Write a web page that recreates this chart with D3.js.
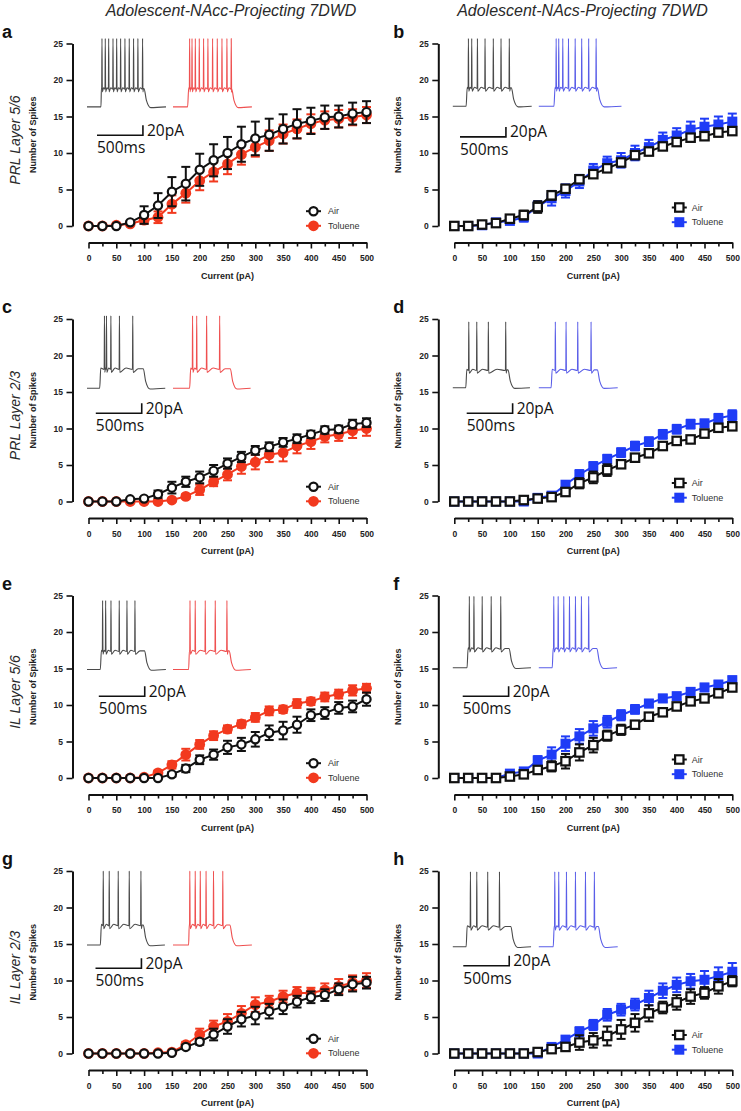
<!DOCTYPE html>
<html>
<head>
<meta charset="utf-8">
<script src="https://cdn.jsdelivr.net/npm/d3@7"></script>
<style>
  body { margin: 0; background: #fff; }
  svg { display: block; font-family: "Liberation Sans", Arial, sans-serif; }
</style>
</head>
<body>
<div id="chart"></div>
<script>

// ---------- data ----------
var currents = [0, 25, 50, 75, 100, 125, 150, 175, 200, 225, 250, 275, 300, 325, 350, 375, 400, 425, 450, 475, 500];
var yTicks = [0, 5, 10, 15, 20, 25];
var columnTitles = ["Adolescent-NAcc-Projecting 7DWD", "Adolescent-NAcs-Projecting 7DWD"];
var rowLabels = ["PRL Layer 5/6", "PRL Layer 2/3", "IL Layer 5/6", "IL Layer 2/3"];
var groupNames = ["Air", "Toluene"];

// spikes per current step (mean, sem)
var airA    = [0,0,0,0.5,1.5,2.8,4.7,5.8,7.7,9.0,10.0,11.2,12.0,12.5,13.3,14.0,14.4,14.9,15.0,15.4,15.6];
var airASem = [0,0,0,0.2,1.2,1.7,2.0,2.3,2.2,2.2,2.2,2.4,2.3,2.2,2.0,2.0,1.8,1.6,1.5,1.5,1.5];
var tolA    = [0,0,0.1,0.3,0.8,1.2,3.0,4.5,6.2,7.4,8.5,9.8,10.8,11.7,12.6,13.3,14.0,14.5,14.7,14.9,15.2];
var tolASem = [0,0,0.1,0.2,0.5,0.8,1.2,1.3,1.3,1.3,1.4,1.4,1.3,1.4,1.3,1.3,1.3,1.2,1.2,1.1,1.1];

var airB    = [0,0,0.2,0.4,1.0,1.5,2.6,4.2,5.1,6.4,7.1,7.9,8.7,9.7,10.2,10.9,11.5,12.1,12.3,12.8,13.0];
var airBSem = [0,0,0.1,0.2,0.3,0.6,0.8,0.6,0.5,0.5,0.4,0.4,0.5,0.5,0.5,0.4,0.4,0.4,0.4,0.5,0.5];
var tolB    = [0,0,0.1,0.5,0.7,1.2,2.7,3.8,4.8,6.1,7.6,8.6,9.0,10.0,10.8,11.8,12.4,13.2,13.6,13.9,14.3];
var tolBSem = [0,0,0.1,0.2,0.3,0.6,0.7,1.0,0.9,0.9,0.9,0.9,1.0,1.0,1.0,1.0,1.0,1.1,1.1,1.1,1.1];

var airC    = [0,0,0,0.3,0.4,1.0,1.9,2.7,3.3,4.2,5.2,6.1,7.0,7.5,8.1,8.6,9.2,9.8,9.9,10.6,10.8];
var airCSem = [0,0,0,0.1,0.2,0.5,0.8,0.7,0.8,0.8,0.7,0.7,0.6,0.6,0.6,0.6,0.5,0.5,0.5,0.6,0.6];
var tolC    = [0,0,0,0,0,0,0.2,0.7,1.6,2.7,3.7,4.8,5.4,6.4,6.7,7.6,8.2,8.9,9.2,9.7,10.0];
var tolCSem = [0,0,0,0,0.1,0.1,0.2,0.3,0.7,0.6,0.8,1.0,1.0,1.0,1.2,1.0,1.0,0.8,0.9,1.0,1.0];

var airD    = [0,0,0,0,0,0.2,0.4,0.6,1.3,2.5,3.3,4.3,5.1,6.0,6.6,7.6,8.3,8.5,9.3,10.1,10.3];
var airDSem = [0,0,0,0,0,0.1,0.2,0.2,0.4,0.7,0.8,0.8,0.5,0.5,0.4,0.4,0.4,0.4,0.4,0.4,0.4];
var tolD    = [0,0,0,0,0,0,0.5,0.8,2.3,3.7,4.8,5.8,6.7,7.6,8.2,9.2,9.9,10.6,10.7,11.4,11.8];
var tolDSem = [0,0,0,0,0,0.1,0.3,0.4,0.5,0.6,0.6,0.6,0.6,0.6,0.6,0.6,0.6,0.6,0.5,0.6,0.7];

var airE    = [0,0,0,0,0,0,0.5,1.3,2.5,3.2,4.2,4.6,5.3,6.2,6.5,7.3,8.6,8.9,9.6,9.8,10.8];
var airESem = [0,0,0,0,0,0.1,0.3,0.5,0.6,0.7,0.9,0.9,1.0,1.0,1.2,1.1,0.8,0.8,0.8,0.8,0.9];
var tolE    = [0,0,0,0,0.1,0.7,1.8,3.2,4.6,5.8,6.7,7.4,8.3,9.2,9.4,10.2,10.5,11.1,11.5,12.0,12.3];
var tolESem = [0,0,0,0,0.1,0.3,0.5,0.8,0.6,0.6,0.5,0.5,0.6,0.6,0.5,0.6,0.5,0.6,0.6,0.7,0.6];

var airF    = [0,0,0,0,0.2,0.5,1.1,1.6,2.3,3.5,4.5,5.8,6.6,7.3,8.4,9.0,9.8,10.5,10.9,11.6,12.4];
var airFSem = [0,0,0,0,0.1,0.2,0.4,0.7,1.0,1.1,1.0,0.7,0.7,0.5,0.4,0.4,0.4,0.4,0.4,0.4,0.4];
var tolF    = [0,0,0,0,0.6,0.9,2.4,3.2,4.7,5.7,6.8,7.7,8.6,9.4,10.2,10.9,11.2,11.8,12.4,12.8,13.4];
var tolFSem = [0,0,0,0,0.2,0.3,0.6,1.0,1.0,1.0,1.0,0.8,0.7,0.6,0.5,0.5,0.5,0.5,0.5,0.5,0.5];

var airG    = [0,0,0,0,0,0,0.1,0.9,1.6,2.6,3.7,4.7,5.2,5.8,6.4,7.1,7.7,8.0,8.8,9.5,9.7];
var airGSem = [0,0,0,0,0,0,0.1,0.3,0.4,0.8,1.0,1.0,1.2,1.0,1.0,0.8,0.8,0.8,0.8,1.0,0.8];
var tolG    = [0,0,0,0,0,0.1,0.2,1.2,2.6,3.7,4.4,5.5,6.7,7.1,7.8,8.3,8.3,8.7,9.2,9.7,10.0];
var tolGSem = [0,0,0,0,0,0.1,0.1,0.4,0.8,0.8,1.0,1.0,1.0,0.8,0.8,0.8,0.7,0.9,1.0,1.0,1.0];

var airH    = [0,0,0,0,0,0,0.2,0.6,0.9,1.5,1.8,2.4,3.3,4.2,5.5,6.3,7.0,7.8,8.3,9.2,9.9];
var airHSem = [0,0,0,0,0,0.1,0.1,0.3,0.5,1.0,1.0,1.3,1.3,1.2,1.1,0.8,1.0,1.0,0.8,1.0,0.7];
var tolH    = [0,0,0,0,0,0,0,0.9,1.9,3.0,3.9,5.3,6.0,6.7,7.6,8.6,9.4,9.9,10.1,10.6,11.2];
var tolHSem = [0,0,0,0,0,0,0.1,0.3,0.5,0.6,0.7,0.8,0.8,0.8,1.0,1.0,1.0,1.0,1.2,1.2,1.2];

// example traces: step on/off, end of sweep and spike times (ms)
var traceA = { air: {on: 152, off: 624, end: 860, spikes: [163,199,236,283,323,366,413,460,507,554,605]},
               tol: {on: 159, off: 641, end: 859, spikes: [181,207,243,286,333,380,431,482,533,587,634]} };
var traceB = { air: {on: 145, off: 641, end: 859, spikes: [170,206,268,351,441,525,615]},
               tol: {on: 165, off: 641, end: 900, spikes: [189,217,261,323,396,467,543,624]} };
var traceC = { air: {on: 138, off: 616, end: 852, spikes: [190,212,260,353,498]},
               tol: {on: 181, off: 627, end: 845, spikes: [213,258,366,508]} };
var traceD = { air: {on: 141, off: 604, end: 840, spikes: [174,261,387,576]},
               tol: {on: 134, off: 641, end: 859, spikes: [180,297,424,569]} };
var traceE = { air: {on: 145, off: 630, end: 859, spikes: [170,203,261,351,435,522]},
               tol: {on: 170, off: 615, end: 848, spikes: [185,242,351,460,587]} };
var traceF = { air: {on: 155, off: 616, end: 851, spikes: [180,230,320,418,522]},
               tol: {on: 146, off: 635, end: 852, spikes: [163,211,272,334,399,464,543]} };
var traceG = { air: {on: 145, off: 616, end: 848, spikes: [177,242,340,460,587]},
               tol: {on: 170, off: 623, end: 859, spikes: [183,242,297,360,441,542]} };
var traceH = { air: {on: 145, off: 635, end: 852, spikes: [192,261,380,508]},
               tol: {on: 157, off: 652, end: 859, spikes: [174,217,301,399,508,605]} };

// ---------- layout ----------
var colX = [72.5, 438.3];
var rowTop = [43.5, 319, 595.5, 871];
var plotH = 182.5, xAxisY = 199;
var titleX = [231, 582.5];
var RED = "#f2391e", BLUE = "#1f3cf6", INK = "#111";
var traceColor = {black: "#4a4a4a", red: "#ef5050", blue: "#5a5ee8"};

var panels = [
  {id: "a", col: 0, row: 0, air: airA, airSem: airASem, tol: tolA, tolSem: tolASem, tr: traceA, inset: [63.4, -5], bar: [24.5, 91.7]},
  {id: "b", col: 1, row: 0, air: airB, airSem: airBSem, tol: tolB, tolSem: tolBSem, tr: traceB, inset: [62.7, -5], bar: [21.7, 93.4]},
  {id: "c", col: 0, row: 1, air: airC, airSem: airCSem, tol: tolC, tolSem: tolCSem, tr: traceC, inset: [69.3, -3.3], bar: [23.3, 94.3]},
  {id: "d", col: 1, row: 1, air: airD, airSem: airDSem, tol: tolD, tolSem: tolDSem, tr: traceD, inset: [68.7, 2.7], bar: [28.4, 94.3]},
  {id: "e", col: 0, row: 2, air: airE, airSem: airESem, tol: tolE, tolSem: tolESem, tr: traceE, inset: [74, 5], bar: [26.3, 100.7]},
  {id: "f", col: 1, row: 2, air: airF, airSem: airFSem, tol: tolF, tolSem: tolFSem, tr: traceF, inset: [72.3, 0.7], bar: [24.4, 100.7]},
  {id: "g", col: 0, row: 3, air: airG, airSem: airGSem, tol: tolG, tolSem: tolGSem, tr: traceG, inset: [74, 0], bar: [23, 97.3]},
  {id: "h", col: 1, row: 3, air: airH, airSem: airHSem, tol: tolH, tolSem: tolHSem, tr: traceH, inset: [75.7, 0.7], bar: [25, 94.7]}
];

var svg = d3.select("#chart").append("svg")
  .attr("width", 741)
  .attr("height", 1111);

svg.append("rect").attr("width", 741).attr("height", 1111).attr("fill", "#fff");

// column titles
svg.selectAll(".coltitle").data(columnTitles).join("text")
  .attr("class", "coltitle")
  .attr("x", function(d, i) { return titleX[i]; })
  .attr("y", 16)
  .attr("text-anchor", "middle")
  .attr("font-size", 16)
  .attr("font-style", "italic")
  .attr("fill", "#2a2a2a")
  .text(function(d) { return d; });

// row labels
svg.selectAll(".rowlabel").data(rowLabels).join("text")
  .attr("class", "rowlabel")
  .attr("transform", function(d, i) { return "translate(15," + (rowTop[i] + 96.5) + ") rotate(-90)"; })
  .attr("text-anchor", "middle")
  .attr("dominant-baseline", "central")
  .attr("font-size", 14)
  .attr("font-style", "italic")
  .attr("fill", "#2a2a2a")
  .text(function(d) { return d; });

// builds voltage points of one sweep from its spike times
function tracePoints(t) {
  var rest = -70, plat = -45, peak = 30;
  var rise = Math.min(t.on + 12, t.spikes[0] - 6);
  var pts = [[0, rest], [t.on, rest], [rise, plat + 3]];
  t.spikes.forEach(function(s, i) {
    if (i > 0) pts.push([(t.spikes[i - 1] + s) / 2, plat + 3]);
    pts.push([s - 3, plat + 1], [s, peak], [s + 4, plat - 3]);
  });
  var last = t.spikes[t.spikes.length - 1];
  pts.push([(last + t.off) / 2, plat + 2], [t.off - 3, plat + 2], [t.off + 22, -60], [t.off + 70, -71], [t.end, rest]);
  return pts;
}

panels.forEach(function(p) {
  var g = svg.append("g").attr("transform", "translate(" + colX[p.col] + "," + rowTop[p.row] + ")");
  var x = d3.scaleLinear().domain([0, 500]).range([16, 294]);
  var y = d3.scaleLinear().domain([0, 25]).range([plotH, 0]);
  var square = p.col === 1;
  var tolColor = square ? BLUE : RED;

  // panel letter
  g.append("text")
    .attr("x", p.col === 0 ? -70.5 : -45)
    .attr("y", -6)
    .attr("font-size", 18)
    .attr("font-weight", "bold")
    .attr("fill", "#111")
    .text(p.id);

  // y axis
  var ya = g.append("g")
    .call(d3.axisLeft(y).tickValues(yTicks).tickSize(6).tickSizeOuter(0).tickPadding(3.5));
  ya.select(".domain").attr("stroke", INK).attr("stroke-width", 2);
  ya.selectAll(".tick line").attr("stroke", INK).attr("stroke-width", 1.6);
  ya.selectAll(".tick text")
    .attr("font-size", 8.5).attr("font-weight", "bold").attr("fill", "#222")
    .attr("font-family", "Liberation Sans, Arial, sans-serif");

  // x axis, offset below the plot
  var xa = g.append("g")
    .attr("transform", "translate(0," + xAxisY + ")")
    .call(d3.axisBottom(x).tickValues(currents).tickSize(6).tickSizeOuter(0).tickPadding(6.5)
      .tickFormat(function(d) { return d % 50 === 0 ? d : ""; }));
  xa.select(".domain").attr("stroke", INK).attr("stroke-width", 2);
  xa.selectAll(".tick line")
    .attr("stroke", INK).attr("stroke-width", 1.6)
    .attr("y2", function(d) { return d % 50 === 0 ? 6 : 4; });
  xa.selectAll(".tick text")
    .attr("font-size", 8.5).attr("font-weight", "bold").attr("fill", "#222")
    .attr("font-family", "Liberation Sans, Arial, sans-serif");

  // axis titles
  g.append("text")
    .attr("transform", "translate(" + (p.col === 0 ? -39.2 : -40) + "," + (plotH / 2) + ") rotate(-90)")
    .attr("text-anchor", "middle")
    .attr("dominant-baseline", "central")
    .attr("font-size", 9)
    .attr("font-weight", "bold")
    .attr("fill", "#222")
    .text("Number of Spikes");

  g.append("text")
    .attr("x", x(250))
    .attr("y", 232)
    .attr("text-anchor", "middle")
    .attr("dominant-baseline", "central")
    .attr("font-size", 9)
    .attr("font-weight", "bold")
    .attr("fill", "#222")
    .text("Current (pA)");

  // example traces
  var tx = d3.scaleLinear().domain([0, 860]).range([0, 79]);
  var tv = d3.scaleLinear().domain([-70, 30]).range(p.inset);
  var trLine = d3.line().curve(d3.curveMonotoneX)
    .x(function(d) { return tx(d[0]); }).y(function(d) { return tv(d[1]); });
  [["air", 14.5, traceColor.black], ["tol", 100.5, square ? traceColor.blue : traceColor.red]].forEach(function(t) {
    g.append("path")
      .attr("transform", "translate(" + t[1] + ",0)")
      .attr("d", trLine(tracePoints(p.tr[t[0]])))
      .attr("fill", "none")
      .attr("stroke", t[2])
      .attr("stroke-width", 1.1)
      .attr("stroke-linejoin", "round");
  });

  // scale bar: 500 ms x 20 pA
  var bx = p.bar[0], by = p.bar[1], barLen = tx(500) - tx(0);
  g.append("path")
    .attr("d", "M" + bx + "," + by + "H" + (bx + barLen) + "V" + (by - 10))
    .attr("fill", "none")
    .attr("stroke", "#111")
    .attr("stroke-width", 1.6);
  g.append("text")
    .attr("x", bx + barLen + 4).attr("y", by + 0.5)
    .attr("font-family", "Open Sans, sans-serif")
    .attr("font-size", 15.5).attr("fill", "#111")
    .text("20pA");
  g.append("text")
    .attr("x", bx).attr("y", by + 18)
    .attr("font-family", "Open Sans, sans-serif")
    .attr("font-size", 15.5).attr("fill", "#111")
    .text("500ms");

  // series: toluene first, air on top
  var series = [
    {vals: p.tol, sem: p.tolSem, color: tolColor, open: false},
    {vals: p.air, sem: p.airSem, color: INK, open: true}
  ];
  var line = d3.line().x(function(d, i) { return x(currents[i]); }).y(function(d) { return y(d); });

  series.forEach(function(s) {
    var sg = g.append("g");
    var pts = s.vals.map(function(v, i) { return {c: currents[i], v: v, e: s.sem[i]}; });

    var eb = sg.selectAll(".eb").data(pts.filter(function(d) { return d.e > 0.15; })).join("g");
    eb.append("line")
      .attr("x1", function(d) { return x(d.c); }).attr("x2", function(d) { return x(d.c); })
      .attr("y1", function(d) { return y(d.v + d.e); }).attr("y2", function(d) { return y(d.v - d.e); })
      .attr("stroke", s.color).attr("stroke-width", 2);
    eb.append("line")
      .attr("x1", function(d) { return x(d.c) - 4.5; }).attr("x2", function(d) { return x(d.c) + 4.5; })
      .attr("y1", function(d) { return y(d.v + d.e); }).attr("y2", function(d) { return y(d.v + d.e); })
      .attr("stroke", s.color).attr("stroke-width", 2);
    eb.append("line")
      .attr("x1", function(d) { return x(d.c) - 4.5; }).attr("x2", function(d) { return x(d.c) + 4.5; })
      .attr("y1", function(d) { return y(d.v - d.e); }).attr("y2", function(d) { return y(d.v - d.e); })
      .attr("stroke", s.color).attr("stroke-width", 2);

    sg.append("path")
      .attr("d", line(s.vals))
      .attr("fill", "none")
      .attr("stroke", s.color)
      .attr("stroke-width", 2);

    if (square) {
      var side = s.open ? 8.4 : 10;
      sg.selectAll(".mk").data(pts).join("rect")
        .attr("x", function(d) { return x(d.c) - side / 2; })
        .attr("y", function(d) { return y(d.v) - side / 2; })
        .attr("width", side).attr("height", side)
        .attr("fill", s.open ? "#fff" : s.color)
        .attr("stroke", s.open ? s.color : "none")
        .attr("stroke-width", 2.2);
    } else {
      sg.selectAll(".mk").data(pts).join("circle")
        .attr("cx", function(d) { return x(d.c); })
        .attr("cy", function(d) { return y(d.v); })
        .attr("r", s.open ? 4.1 : 5.4)
        .attr("fill", s.open ? "#fff" : s.color)
        .attr("stroke", s.open ? s.color : "none")
        .attr("stroke-width", 2.2);
    }
  });

  // legend
  var ly = square ? [164, 178.7] : [167.7, 182.3];
  var lg = g.append("g");
  [[groupNames[0], INK, true], [groupNames[1], tolColor, false]].forEach(function(d, i) {
    var cy = ly[i], cx = 241;
    lg.append("line")
      .attr("x1", cx - 7.5).attr("x2", cx + 7.5).attr("y1", cy).attr("y2", cy)
      .attr("stroke", d[1]).attr("stroke-width", 2);
    if (square) {
      var side = d[2] ? 8.4 : 10;
      lg.append("rect")
        .attr("x", cx - side / 2).attr("y", cy - side / 2)
        .attr("width", side).attr("height", side)
        .attr("fill", d[2] ? "#fff" : d[1])
        .attr("stroke", d[2] ? d[1] : "none").attr("stroke-width", 2.2);
    } else {
      lg.append("circle")
        .attr("cx", cx).attr("cy", cy).attr("r", d[2] ? 4.1 : 5.4)
        .attr("fill", d[2] ? "#fff" : d[1])
        .attr("stroke", d[2] ? d[1] : "none").attr("stroke-width", 2.2);
    }
    lg.append("text")
      .attr("x", square ? 253.5 : 255.5).attr("y", cy)
      .attr("dominant-baseline", "central")
      .attr("font-size", 9)
      .attr("fill", "#333")
      .text(d[0]);
  });
});

</script>
</body>
</html>
